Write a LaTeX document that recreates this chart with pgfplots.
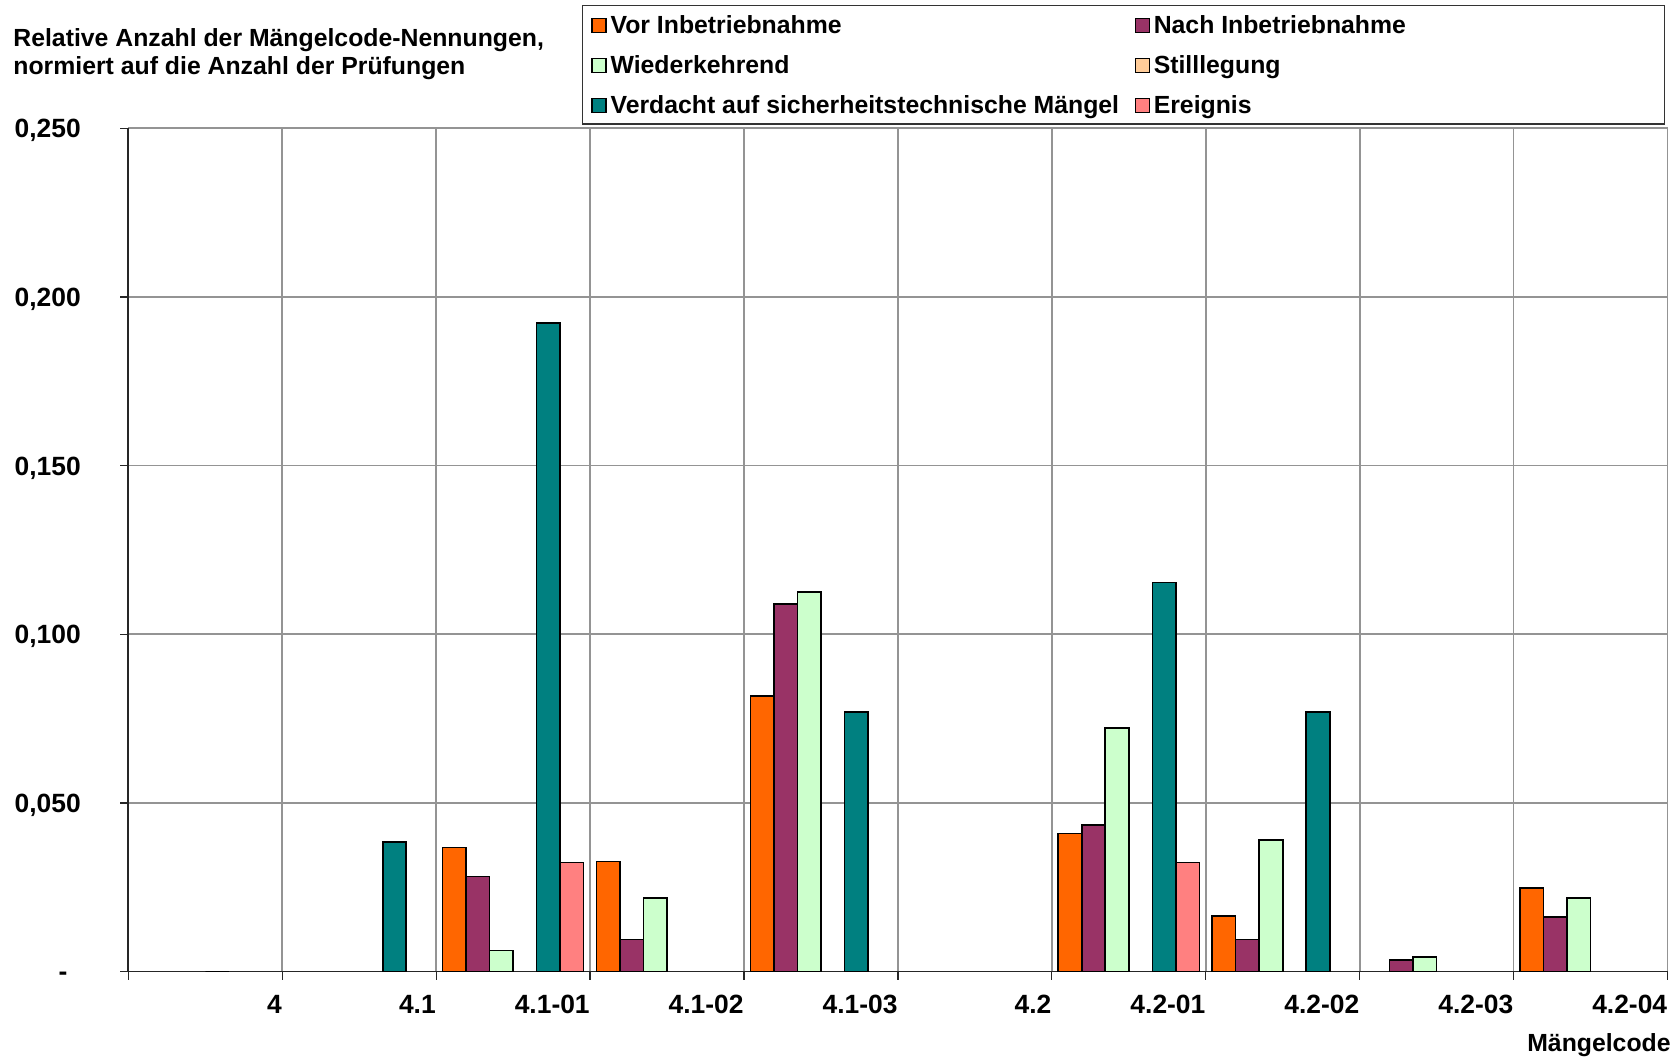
\documentclass[border=0pt]{standalone}
\usepackage{fontspec}
\setmainfont{Liberation Sans}
\usepackage{pgfplots}
\pgfplotsset{compat=1.18}
\definecolor{cVor}{HTML}{FF6600}
\definecolor{cNach}{HTML}{993366}
\definecolor{cWie}{HTML}{CCFFCC}
\definecolor{cSti}{HTML}{FFCC99}
\definecolor{cVer}{HTML}{008080}
\definecolor{cEre}{HTML}{FF8080}
\newcommand\lab{\fontsize{12.4}{14}\selectfont\bfseries}
\newcommand\tic{\fontsize{13.2}{15}\selectfont\bfseries}
\pgfplotsset{mylegend/.style={legend image code/.code={\draw[##1,draw=black,line width=0.6pt] (0pt,-2.5pt) rectangle (7pt,4.5pt);}}}
\begin{document}
\begin{tikzpicture}[x=1pt,y=1pt]
\useasboundingbox (0,0) rectangle (838,530);
\begin{axis}[
  at={(64.15pt,44.2pt)}, anchor=south west,
  scale only axis, width=769.6pt, height=421.65pt,
  xmin=0, xmax=10, ymin=0, ymax=0.25,
  ybar=0pt, bar width=0.1528,
  axis x line*=bottom, axis y line*=left,
  axis line style={black!85, line width=0.9pt, -},
  xtick={0,...,10},
  xticklabels={,4,4.1,4.1-01,4.1-02,4.1-03,4.2,4.2-01,4.2-02,4.2-03,4.2-04},
  ytick={0,0.05,0.1,0.15,0.2,0.25},
  yticklabels={{\makebox[11pt][l]{-}},{0,050},{0,100},{0,150},{0,200},{0,250}},
  grid=major, grid style={black!42, line width=0.85pt},
  tick align=outside, major tick length=4pt, tick style={black!85, line width=0.6pt},
  xticklabel style={font=\tic, anchor=base east, inner sep=0pt, yshift=-17pt},
  yticklabel style={font=\tic, anchor=base east, inner sep=0pt, xshift=-19.6pt, yshift=-4.7pt},
  legend columns=2, legend cell align=left,
  legend style={at={(0.3006,1.1343)}, anchor=north west, draw=none, fill=none,
    inner sep=0pt, column sep=2pt, row sep=8pt, font=\lab,
    nodes={inner sep=0pt, text height=9pt, text depth=3pt}},
  mylegend,
  every axis plot/.append style={draw=black, line width=0.8pt},
]
\addplot[fill=cVor, mylegend] coordinates {(2.5,0.0368) (3.5,0.0326) (4.5,0.0817) (6.5,0.0409) (7.5,0.0165) (9.5,0.0247)};
\addlegendentry{\makebox[260pt][l]{Vor Inbetriebnahme}}
\addplot[fill=cNach, mylegend] coordinates {(2.5,0.0282) (3.5,0.0095) (4.5,0.109) (6.5,0.0434) (7.5,0.0095) (8.5,0.0035) (9.5,0.0162)};
\addlegendentry{Nach Inbetriebnahme}
\addplot[fill=cWie, mylegend] coordinates {(2.5,0.0063) (3.5,0.0219) (4.5,0.1125) (6.5,0.0722) (7.5,0.039) (8.5,0.0044) (9.5,0.0219)};
\addlegendentry{\makebox[260pt][l]{Wiederkehrend}}
\addplot[fill=cSti, mylegend] coordinates {(0.5,0)};
\addlegendentry{Stilllegung}
\addplot[fill=cVer, mylegend] coordinates {(1.5,0.0385) (2.5,0.1923) (4.5,0.0769) (6.5,0.1154) (7.5,0.0769)};
\addlegendentry{\makebox[260pt][l]{Verdacht auf sicherheitstechnische Mängel}}
\addplot[fill=cEre, mylegend] coordinates {(2.5,0.0323) (6.5,0.0323)};
\addlegendentry{Ereignis}
\end{axis}
\node[anchor=base west, font=\lab, inner sep=0pt] at (6.5,506.5) {Relative Anzahl der Mängelcode-Nennungen,};
\node[anchor=base west, font=\lab, inner sep=0pt] at (6.5,492.6) {normiert auf die Anzahl der Prüfungen};
\node[anchor=base east, font=\lab, inner sep=0pt] at (835.5,4) {Mängelcode};
\draw[black!80, line width=0.6pt] (291.3,468) rectangle (832.2,527.35);
\end{tikzpicture}
\end{document}
